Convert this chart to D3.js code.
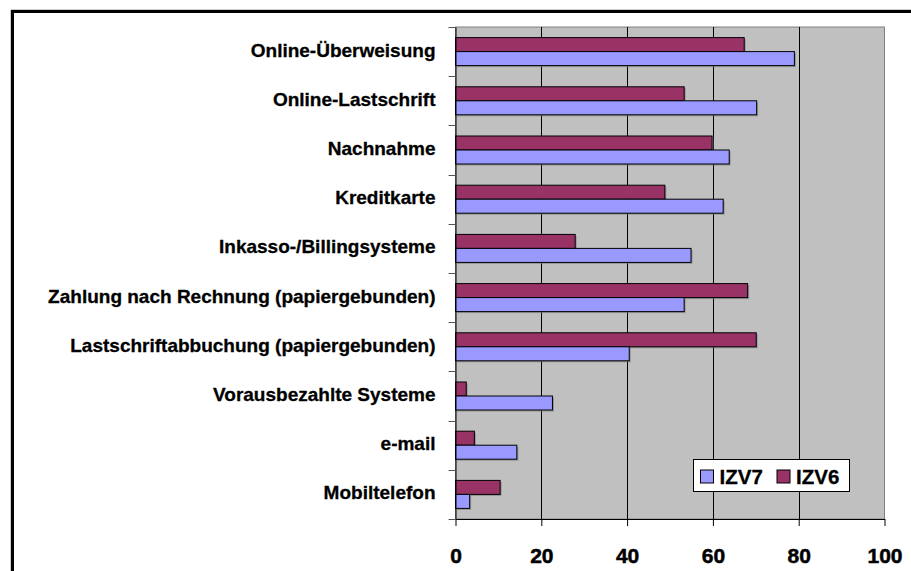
<!DOCTYPE html>
<html>
<head>
<meta charset="utf-8">
<script src="https://cdn.jsdelivr.net/npm/d3@7"></script>
<style>
  body { margin: 0; background: #fff; }
  svg { display: block; font-family: "Liberation Sans", Arial, sans-serif; font-weight: bold; }
</style>
</head>
<body>
<div id="chart"></div>
<script>
var categories = ["Online-Überweisung", "Online-Lastschrift", "Nachnahme", "Kreditkarte",
    "Inkasso-/Billingsysteme", "Zahlung nach Rechnung (papiergebunden)",
    "Lastschriftabbuchung (papiergebunden)", "Vorausbezahlte Systeme", "e-mail", "Mobiltelefon"];
var izv7 = [79.0, 70.2, 63.8, 62.4, 54.9, 53.3, 40.5, 22.6, 14.3, 3.3];
var izv6 = [67.3, 53.3, 59.8, 48.8, 27.9, 68.1, 70.1, 2.5, 4.4, 10.4];
var seriesNames = ["IZV6", "IZV7"];
var legendNames = ["IZV7", "IZV6"];
var xTicks = [0, 20, 40, 60, 80, 100];

var colors = { IZV7: "#9999ff", IZV6: "#993366" };

var svgWidth = 911;
var svgHeight = 571;
var plot = { left: 455.5, right: 884.5, top: 27, bottom: 519 };

var svg = d3.select("#chart").append("svg")
    .attr("width", svgWidth)
    .attr("height", svgHeight);

// outer chart border (runs off the picture right and bottom)
svg.append("rect")
    .attr("x", 11).attr("y", 10)
    .attr("width", 1000).attr("height", 700)
    .attr("fill", "none").attr("stroke", "#999").attr("stroke-width", 1);
svg.append("rect")
    .attr("x", 12.5).attr("y", 11.5)
    .attr("width", 1000).attr("height", 700)
    .attr("fill", "none").attr("stroke", "#000").attr("stroke-width", 3);

var x = d3.scaleLinear().domain([0, 100]).range([plot.left, plot.right]);
var y = d3.scaleBand().domain(categories).range([plot.top, plot.bottom]);
var ySub = d3.scaleBand().domain(seriesNames).range([0, y.bandwidth()]).paddingOuter(0.757);

// plot area
svg.append("rect")
    .attr("x", plot.left).attr("y", plot.top)
    .attr("width", plot.right - plot.left).attr("height", plot.bottom - plot.top)
    .attr("fill", "#c0c0c0")
    .attr("stroke", "#808080").attr("stroke-width", 1);

// vertical gridlines
svg.selectAll(".grid")
    .data(xTicks.slice(1, -1))
    .enter().append("line")
    .attr("class", "grid")
    .attr("x1", d => Math.round(x(d)) + 0.5).attr("x2", d => Math.round(x(d)) + 0.5)
    .attr("y1", plot.top).attr("y2", plot.bottom)
    .attr("stroke", "#000").attr("stroke-width", 1);

// bars
var rows = categories.map(function (c, i) {
    return { cat: c, IZV7: izv7[i], IZV6: izv6[i] };
});
var groups = svg.selectAll(".row")
    .data(rows)
    .enter().append("g")
    .attr("transform", d => `translate(0, ${y(d.cat)})`);

groups.selectAll(".shadow")
    .data(d => seriesNames.map(s => ({ s: s, v: d[s] })))
    .enter().append("rect")
    .attr("x", x(0) + 1.5)
    .attr("y", d => ySub(d.s) + 1.5)
    .attr("width", d => x(d.v) - x(0))
    .attr("height", ySub.bandwidth())
    .attr("fill", "#777").attr("opacity", 0.6);

groups.selectAll(".bar")
    .data(d => seriesNames.map(s => ({ s: s, v: d[s] })))
    .enter().append("rect")
    .attr("class", "bar")
    .attr("x", x(0))
    .attr("y", d => ySub(d.s))
    .attr("width", d => x(d.v) - x(0))
    .attr("height", ySub.bandwidth())
    .attr("fill", d => colors[d.s])
    .attr("stroke", "#000").attr("stroke-width", 1);

// x axis
var xAxis = svg.append("g")
    .attr("transform", `translate(0, ${plot.bottom})`)
    .call(d3.axisBottom(x).tickValues(xTicks).tickSize(7).tickSizeOuter(0).tickPadding(22));
xAxis.select(".domain").attr("stroke", "#000");
xAxis.selectAll("text")
    .attr("font-size", 21).attr("font-weight", "bold")
    .attr("font-family", "Liberation Sans, Arial, sans-serif")
    .attr("fill", "#000")
    .attr("stroke", "#000").attr("stroke-width", 0.5);

// y axis: labels at band centres, ticks at band edges
var yAxis = svg.append("g")
    .attr("transform", `translate(${plot.left}, 0)`)
    .call(d3.axisLeft(y).tickSize(0).tickPadding(20));
yAxis.select(".domain").attr("stroke", "#000");
yAxis.selectAll("text")
    .attr("font-size", 19).attr("font-weight", "bold")
    .attr("font-family", "Liberation Sans, Arial, sans-serif")
    .attr("fill", "#000")
    .attr("stroke", "#000").attr("stroke-width", 0.3)
    .attr("dy", "0.26em");

var edges = categories.map(c => y(c)).concat([plot.bottom]);
svg.selectAll(".ytick")
    .data(edges)
    .enter().append("line")
    .attr("x1", plot.left - 7).attr("x2", plot.left)
    .attr("y1", d => Math.round(d) + 0.5).attr("y2", d => Math.round(d) + 0.5)
    .attr("stroke", "#555");

// legend
var legend = svg.append("g").attr("transform", "translate(693.5, 459.5)");
legend.append("rect")
    .attr("width", 156).attr("height", 32)
    .attr("fill", "#fff").attr("stroke", "#000");
var items = legend.selectAll(".item")
    .data(legendNames)
    .enter().append("g")
    .attr("transform", (d, i) => `translate(${7 + i * 76.5}, 0)`);
items.append("rect")
    .attr("x", 0).attr("y", 10.5)
    .attr("width", 13).attr("height", 13)
    .attr("fill", d => colors[d]).attr("stroke", "#000");
items.append("text")
    .attr("x", 19).attr("y", 24)
    .attr("font-size", 20.5)
    .attr("stroke", "#000").attr("stroke-width", 0.3)
    .text(d => d);
</script>
</body>
</html>
